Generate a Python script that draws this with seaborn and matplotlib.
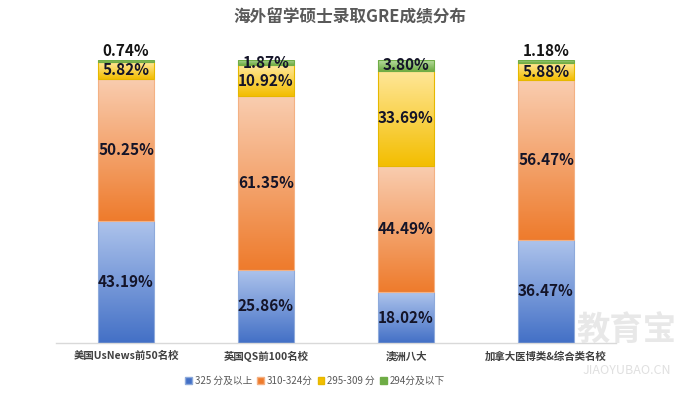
import matplotlib
matplotlib.use('Agg')
import matplotlib.pyplot as plt
import seaborn as sns
import numpy as np
from matplotlib.colors import LinearSegmentedColormap
from matplotlib.patches import Patch

schools = ['美国UsNews前50名校', '英国QS前100名校', '澳洲八大', '加拿大医博类&综合类名校']
levels = ['325 分及以上', '310-324分', '295-309 分', '294分及以下']
score_325 = [43.19, 25.86, 18.02, 36.47]
score_310 = [50.25, 61.35, 44.49, 56.47]
score_295 = [5.82, 10.92, 33.69, 5.88]
score_294 = [0.74, 1.87, 3.80, 1.18]

# gradient colours per level: (bottom/dark, top/light)
grads = [('#4370c6', '#aec4ec'), ('#ee7b2c', '#f9cdb0'),
         ('#f3be00', '#ffe79a'), ('#6eac45', '#b9dda0')]
edges = ['#8eaadb', '#f4b183', '#e6b800', '#70ad47']

sns.set_style('white')
plt.rcParams['font.family'] = ['Noto Sans CJK SC', 'DejaVu Sans']

fig = plt.figure(figsize=(7, 3.94), dpi=100)
ax = fig.add_axes([0.08, 0.1294, 0.80, 0.7183])

series = [score_325, score_310, score_295, score_294]
bottom = np.zeros(len(schools))
for i, vals in enumerate(series):
    n0 = len(ax.patches)
    sns.barplot(x=schools, y=vals, bottom=bottom, color=grads[i][0], width=0.4,
                edgecolor=edges[i], linewidth=0.8, ax=ax)
    cmap = LinearSegmentedColormap.from_list('g%d' % i, [grads[i][0], grads[i][1]])
    for p in ax.patches[n0:]:
        x0, w, y0, h = p.get_x(), p.get_width(), p.get_y(), p.get_height()
        ax.imshow(np.linspace(0, 1, 256).reshape(-1, 1), cmap=cmap, origin='lower',
                  extent=(x0, x0 + w, y0, y0 + h), aspect='auto', zorder=2)
        p.set_facecolor('none')
        p.set_zorder(3)
    for j, v in enumerate(vals):
        if v < 1.5:
            ax.text(j, 100.4, f'{v:.2f}%', ha='center', va='bottom', fontsize=11,
                    fontweight='bold', color='#141414', zorder=4)
        else:
            ax.text(j, bottom[j] + v / 2, f'{v:.2f}%', ha='center', va='center', fontsize=11,
                    fontweight='bold', color='#141428', zorder=4)
    bottom = bottom + np.array(vals)

ax.set_xlim(-0.5, 3.5)
ax.set_ylim(0, 100)
ax.set_yticks([])
ax.set_xlabel('')
ax.set_ylabel('')
ax.tick_params(axis='x', length=0, pad=6)
for lab in ax.get_xticklabels():
    lab.set_fontsize(7.5)
    lab.set_fontweight('bold')
    lab.set_color('#404040')
for s in ['top', 'left', 'right']:
    ax.spines[s].set_visible(False)
ax.spines['bottom'].set_color('#d9d9d9')
ax.spines['bottom'].set_linewidth(1)

fig.text(0.5, 0.955, '海外留学硕士录取GRE成绩分布', ha='center', va='center',
         fontsize=12, fontweight='bold', color='#595959')

handles = [Patch(facecolor=grads[i][0], edgecolor=edges[i]) for i in range(4)]
fig.legend(handles, levels, loc='center', bbox_to_anchor=(0.45, 0.033), ncol=4,
           frameon=False, fontsize=7, handlelength=0.7, handleheight=0.7,
           handletextpad=0.3, columnspacing=0.5, labelcolor='#595959')

# watermark
fig.text(0.895, 0.16, '教育宝', ha='center', va='center', fontsize=24,
         color='#e6e6e6', alpha=0.9, fontweight='bold', zorder=10)
fig.text(0.895, 0.06, 'JIAOYUBAO.CN', ha='center', va='center', fontsize=9,
         color='#e0e0e0', zorder=10)

fig.savefig('out.png', dpi=100)
